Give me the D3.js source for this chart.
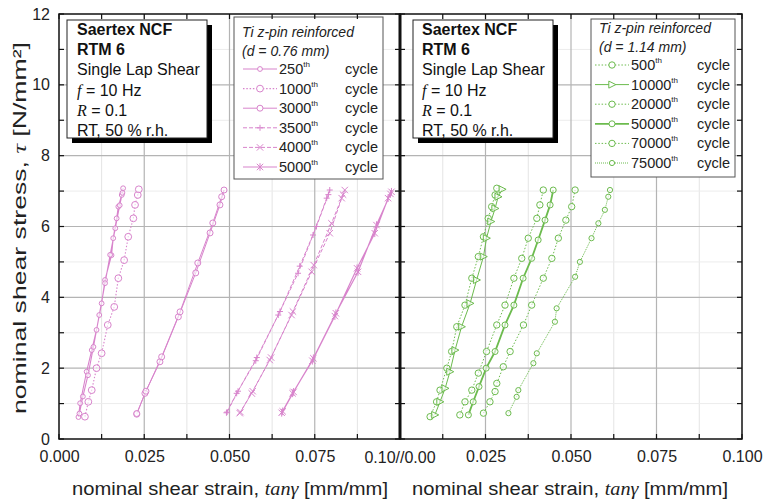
<!DOCTYPE html>
<html>
<head>
<meta charset="utf-8">
<script src="https://cdn.jsdelivr.net/npm/d3@7/dist/d3.min.js"></script>
<style>
  html, body { margin: 0; padding: 0; background: #fff; }
  svg { display: block; font-family: "Liberation Sans", Arial, sans-serif; }
</style>
</head>
<body>
<svg id="chart" width="765" height="502"></svg>
<script>
// ---- data: [nominal shear strain tanγ, nominal shear stress τ] per recorded cycle ----
const cyc250 = [[0.0057,0.62],[0.0062,1.01],[0.0081,1.90],[0.0096,2.51],[0.0110,3.08],[0.0125,3.83],[0.0135,4.49],[0.0154,5.19],[0.0159,5.67],[0.0169,6.23],[0.0174,6.56],[0.0184,6.89],[0.0188,7.08],
  [0.0186,6.95],[0.0178,6.60],[0.0165,5.95],[0.0150,5.20],[0.0135,4.40],[0.0118,3.50],[0.0101,2.60],[0.0085,1.80],[0.0070,1.20],[0.0060,0.72]];
const cyc1000 = [[0.0076,0.63],[0.0086,1.05],[0.0096,1.38],[0.0110,2.00],[0.0125,2.42],[0.0143,3.22],[0.0162,3.73],[0.0174,4.54],[0.0191,5.05],[0.0203,5.71],[0.0218,6.23],[0.0223,6.61],[0.0231,6.89],[0.0234,7.05]];
const cyc3000 = [[0.0228,0.70],[0.0252,1.29],[0.0296,2.18],[0.0350,3.45],[0.0401,4.69],[0.0443,5.82],[0.0472,6.61],[0.0484,7.03],
  [0.0477,6.84],[0.0451,6.10],[0.0407,4.97],[0.0355,3.59],[0.0301,2.32],[0.0255,1.35],[0.0228,0.72]];
const cyc3500 = [[0.0491,0.74],[0.0521,1.29],[0.0577,2.21],[0.0643,3.50],[0.0701,4.68],[0.0745,5.76],[0.0785,6.80],[0.0794,7.03],
  [0.0790,6.90],[0.0755,6.00],[0.0706,4.88],[0.0648,3.60],[0.0580,2.30],[0.0525,1.35],[0.0493,0.76]];
const cyc4000 = [[0.0530,0.73],[0.0565,1.29],[0.0618,2.23],[0.0682,3.50],[0.0741,4.72],[0.0794,5.81],[0.0829,6.80],[0.0838,7.03],
  [0.0833,6.90],[0.0799,6.09],[0.0747,4.91],[0.0686,3.60],[0.0622,2.30],[0.0568,1.35],[0.0532,0.76]];
const cyc5000 = [[0.0653,0.74],[0.0685,1.29],[0.0743,2.21],[0.0809,3.47],[0.0874,4.82],[0.0926,5.81],[0.0965,6.80],[0.0975,6.98],
  [0.0972,6.92],[0.0931,6.04],[0.0877,4.72],[0.0812,3.55],[0.0746,2.28],[0.0688,1.33],[0.0656,0.78]];

const cyc500 = [[0.0088,0.63],[0.0107,1.05],[0.0117,1.38],[0.0137,2.00],[0.0151,2.47],[0.0166,3.17],[0.0190,3.78],[0.0210,4.54],[0.0229,5.15],[0.0244,5.71],[0.0258,6.23],[0.0268,6.56],[0.0278,6.89],[0.0283,7.08]];
const cyc10000 = [[0.0102,0.68],[0.0117,1.05],[0.0132,1.43],[0.0146,1.90],[0.0161,2.51],[0.0180,3.17],[0.0205,3.83],[0.0224,4.49],[0.0244,5.15],[0.0253,5.67],[0.0266,6.14],[0.0278,6.51],[0.0287,6.84],[0.0299,7.05]];
const cyc20000 = [[0.0175,0.68],[0.0190,1.05],[0.0210,1.38],[0.0229,1.86],[0.0253,2.47],[0.0283,3.22],[0.0307,3.78],[0.0333,4.54],[0.0356,5.10],[0.0375,5.67],[0.0400,6.23],[0.0409,6.61],[0.0419,7.03]];
const cyc50000 = [[0.0200,0.68],[0.0214,1.05],[0.0231,1.48],[0.0252,2.00],[0.0278,2.47],[0.0307,3.22],[0.0333,3.78],[0.0360,4.54],[0.0385,5.10],[0.0404,5.62],[0.0424,6.18],[0.0439,6.61],[0.0448,7.03]];
const cyc70000 = [[0.0244,0.73],[0.0263,1.05],[0.0278,1.34],[0.0283,1.57],[0.0302,2.04],[0.0322,2.47],[0.0361,3.22],[0.0385,3.78],[0.0419,4.54],[0.0444,5.10],[0.0463,5.67],[0.0485,6.18],[0.0502,6.56],[0.0512,7.03]];
const cyc75000 = [[0.0317,0.73],[0.0341,1.19],[0.0346,1.38],[0.0390,2.14],[0.0400,2.42],[0.0453,3.31],[0.0458,3.69],[0.0512,4.58],[0.0526,5.00],[0.0560,5.67],[0.0580,6.09],[0.0599,6.47],[0.0609,6.84],[0.0614,7.03]];

const cyclesLeft  = ["250", "1000", "3000", "3500", "4000", "5000"];
const cyclesRight = ["500", "10000", "20000", "50000", "70000", "75000"];
const seriesLeft  = [cyc250, cyc1000, cyc3000, cyc3500, cyc4000, cyc5000];
const seriesRight = [cyc500, cyc10000, cyc20000, cyc50000, cyc70000, cyc75000];

const strainTicks = [0, 0.025, 0.05, 0.075, 0.1];
const strainMinor = [0.0125, 0.0375, 0.0625, 0.0875];
const stressTicks = [0, 2, 4, 6, 8, 10, 12];
const stressMinor = [1, 3, 5, 7, 9, 11];

const infoLines = ["Saertex NCF", "RTM 6", "Single Lap Shear", "f = 10 Hz", "R = 0.1", "RT, 50 % r.h."];

// ---- styles per series ----
const PINK = "#d884cc", GREEN = "#6cbb4e";
const styleLeft = [
  { dash: null,      marker: "circle", r: 2.4, w: 1.1 },
  { dash: "1.5,1.8", marker: "circle", r: 3.4, w: 1.1 },
  { dash: null,      marker: "circle", r: 3.0, w: 1.0 },
  { dash: "4,2",     marker: "plus",   r: 3.0, w: 1.0 },
  { dash: "4,2",     marker: "cross",  r: 3.2, w: 1.0 },
  { dash: null,      marker: "star",   r: 3.2, w: 1.2 }
];
const styleRight = [
  { dash: "1.5,1.8", marker: "circle",   r: 3.2, w: 1.0 },
  { dash: null,      marker: "triangle", r: 3.2, w: 1.0 },
  { dash: "1.5,1.8", marker: "circle",   r: 3.2, w: 1.0 },
  { dash: null,      marker: "circle",   r: 3.0, w: 1.8 },
  { dash: "1.5,1.8", marker: "circle",   r: 3.2, w: 1.0 },
  { dash: "1,1",     marker: "circle",   r: 2.6, w: 1.0 }
];

const svg = d3.select("#chart");
const plotTop = 14, plotBottom = 439;
const xL = d3.scaleLinear().domain([0, 0.1]).range([59, 400]);
const xR = d3.scaleLinear().domain([0, 0.1]).range([400, 742]);
const y  = d3.scaleLinear().domain([0, 12]).range([plotBottom, plotTop]);

function markerPath(type, r) {
  switch (type) {
    case "plus":  return `M${-r},0H${r}M0,${-r}V${r}`;
    case "cross": return `M${-r},${-r}L${r},${r}M${-r},${r}L${r},${-r}`;
    case "star":  return `M${-r},${-r}L${r},${r}M${-r},${r}L${r},${-r}M0,${-r*1.2}V${r*1.2}`;
    case "triangle": return `M${-r},${-r*1.1}L${r*1.2},0L${-r},${r*1.1}Z`;
    default: return d3.symbol(d3.symbolCircle, Math.PI * r * r)();
  }
}

function drawPanel(x, series, styles, color, cycles, lb, ib, dLabel) {
  const g = svg.append("g");
  const x0 = x.range()[0], x1 = x.range()[1];

  // grid
  g.selectAll(".gmx").data(strainMinor).join("line")
    .attr("x1", d => x(d)).attr("x2", d => x(d)).attr("y1", plotTop).attr("y2", plotBottom)
    .attr("stroke", "#e4e4e4").attr("stroke-width", 1);
  g.selectAll(".gmy").data(stressMinor).join("line")
    .attr("x1", x0).attr("x2", x1).attr("y1", d => y(d)).attr("y2", d => y(d))
    .attr("stroke", "#ececec").attr("stroke-width", 1);
  g.selectAll(".gx").data(strainTicks.slice(1, -1)).join("line")
    .attr("x1", d => x(d)).attr("x2", d => x(d)).attr("y1", plotTop).attr("y2", plotBottom)
    .attr("stroke", "#b4b4b4").attr("stroke-width", 1.2);
  g.selectAll(".gy").data(stressTicks.slice(1, -1)).join("line")
    .attr("x1", x0).attr("x2", x1).attr("y1", d => y(d)).attr("y2", d => y(d))
    .attr("stroke", "#b4b4b4").attr("stroke-width", 1.2);

  // curves
  series.forEach((pts, i) => {
    const st = styles[i];
    g.append("path").datum(pts)
      .attr("d", d3.line().x(d => x(d[0])).y(d => y(d[1])))
      .attr("fill", "none").attr("stroke", color).attr("stroke-width", st.w)
      .attr("stroke-dasharray", st.dash);
    g.selectAll(null).data(pts).join("path")
      .attr("transform", d => `translate(${x(d[0])},${y(d[1])})`)
      .attr("d", markerPath(st.marker, st.r))
      .attr("fill", st.marker === "circle" || st.marker === "triangle" ? "#fff" : "none")
      .attr("fill-opacity", 0.6)
      .attr("stroke", color).attr("stroke-width", 1);
  });

  // info box with drop shadow
  g.append("rect").attr("x", ib.x + 5).attr("y", ib.y + 5).attr("width", ib.w).attr("height", ib.h).attr("fill", "#000");
  g.append("rect").attr("x", ib.x).attr("y", ib.y).attr("width", ib.w).attr("height", ib.h)
    .attr("fill", "#fff").attr("stroke", "#222").attr("stroke-width", 1);
  infoLines.forEach((t, i) => {
    const tx = g.append("text").attr("x", ib.x + ib.pad).attr("y", ib.y + 15 + i * 20.2)
      .attr("font-size", 16).attr("fill", "#111");
    if (i < 2) tx.attr("font-weight", "bold").text(t);
    else if (i === 3) {
      tx.append("tspan").attr("font-family", "Liberation Serif, serif").attr("font-style", "italic").text("f");
      tx.append("tspan").text(" = 10 Hz");
    } else if (i === 4) {
      tx.append("tspan").attr("font-family", "Liberation Serif, serif").attr("font-style", "italic").text("R");
      tx.append("tspan").text(" = 0.1");
    } else tx.text(t);
  });

  // legend box
  g.append("rect").attr("x", lb.x).attr("y", lb.y).attr("width", lb.w).attr("height", lb.h)
    .attr("fill", "#fff").attr("stroke", "#555").attr("stroke-width", 1);
  g.append("text").attr("x", lb.x + 8).attr("y", lb.y + lb.titleY).attr("font-size", 14)
    .attr("font-style", "italic").attr("fill", "#222").text("Ti z-pin reinforced");
  g.append("text").attr("x", lb.x + 8).attr("y", lb.y + lb.titleY + 18.5).attr("font-size", 14)
    .attr("font-style", "italic").attr("fill", "#222").text(dLabel);
  cycles.forEach((c, i) => {
    const st = styles[i];
    const cy = lb.y + lb.entryY + i * 19.6;
    const sx0 = lb.x + lb.lineX, sx1 = sx0 + 34;
    g.append("line").attr("x1", sx0).attr("x2", sx1).attr("y1", cy).attr("y2", cy)
      .attr("stroke", color).attr("stroke-width", st.w).attr("stroke-dasharray", st.dash);
    g.append("path").attr("transform", `translate(${(sx0 + sx1) / 2},${cy})`)
      .attr("d", markerPath(st.marker, st.r))
      .attr("fill", st.marker === "circle" || st.marker === "triangle" ? "#fff" : "none")
      .attr("stroke", color).attr("stroke-width", 1);
    const t = g.append("text").attr("x", sx1 + 2).attr("y", cy + 5).attr("font-size", 14.5).attr("fill", "#222");
    t.append("tspan").text(c);
    t.append("tspan").attr("font-size", 8).attr("dy", -7).text("th");
    g.append("text").attr("x", lb.x + lb.w - 5).attr("y", cy + 5).attr("text-anchor", "end")
      .attr("font-size", 14.5).attr("fill", "#222").text("cycle");
  });

  // frame ticks (inward)
  const tk = g.append("g").attr("stroke", "#111").attr("stroke-width", 1.2);
  strainTicks.concat(strainMinor).forEach(v => {
    tk.append("line").attr("x1", x(v)).attr("x2", x(v)).attr("y1", plotBottom).attr("y2", plotBottom - 5);
    tk.append("line").attr("x1", x(v)).attr("x2", x(v)).attr("y1", plotTop).attr("y2", plotTop + 5);
  });
  stressTicks.concat(stressMinor).forEach(v => {
    tk.append("line").attr("x1", x0).attr("x2", x0 + 5).attr("y1", y(v)).attr("y2", y(v));
    tk.append("line").attr("x1", x1).attr("x2", x1 - 5).attr("y1", y(v)).attr("y2", y(v));
  });

  g.append("rect").attr("x", x0).attr("y", plotTop).attr("width", x1 - x0).attr("height", plotBottom - plotTop)
    .attr("fill", "none").attr("stroke", "#111").attr("stroke-width", 1.5);
  return g;
}

drawPanel(xL, seriesLeft, styleLeft, PINK, cyclesLeft,
  { x: 234, y: 17, w: 149, h: 162, titleY: 20, entryY: 52, lineX: 9 },
  { x: 67, y: 20, w: 140, h: 118, pad: 10 }, "(d = 0.76 mm)");
drawPanel(xR, seriesRight, styleRight, GREEN, cyclesRight,
  { x: 591, y: 19, w: 144, h: 158, titleY: 14, entryY: 46, lineX: 4 },
  { x: 413, y: 20, w: 140, h: 118, pad: 9 }, "(d = 1.14 mm)");

// panel divider
svg.append("line").attr("x1", 400).attr("x2", 400).attr("y1", plotTop).attr("y2", plotBottom)
  .attr("stroke", "#111").attr("stroke-width", 3);

// x tick labels via axes (labels only; ticks drawn on frame)
const fmt3 = d3.format(".3f");
const tickFont = a => a.selectAll("text").attr("font-size", 16).attr("fill", "#222")
  .attr("font-family", "Liberation Sans, Arial, sans-serif");
svg.append("g").attr("transform", `translate(0,${plotBottom})`)
  .call(d3.axisBottom(xL).tickValues(strainTicks.slice(0, -1)).tickSize(0).tickPadding(12).tickFormat(fmt3))
  .call(a => a.select(".domain").remove()).call(tickFont);
svg.append("g").attr("transform", `translate(0,${plotBottom})`)
  .call(d3.axisBottom(xR).tickValues(strainTicks.slice(1)).tickSize(0).tickPadding(12).tickFormat(fmt3))
  .call(a => a.select(".domain").remove()).call(tickFont);
svg.append("text").attr("x", 400).attr("y", plotBottom + 24).attr("text-anchor", "middle")
  .attr("font-size", 16).attr("fill", "#222").text("0.10//0.00");

// y tick labels
svg.append("g").attr("transform", "translate(59,0)")
  .call(d3.axisLeft(y).tickValues(stressTicks).tickSize(0).tickPadding(9))
  .call(a => a.select(".domain").remove()).call(tickFont);

// axis titles
function strainTitle(cx) {
  const t = svg.append("text").attr("x", cx).attr("y", 495).attr("text-anchor", "middle")
    .attr("font-size", 18).attr("fill", "#222")
    .attr("textLength", 316).attr("lengthAdjust", "spacingAndGlyphs");
  t.append("tspan").text("nominal shear strain, ");
  t.append("tspan").attr("font-family", "Liberation Serif, serif").attr("font-style", "italic").text("tanγ");
  t.append("tspan").text(" [mm/mm]");
}
strainTitle(230);
strainTitle(570);

const yt = svg.append("text").attr("transform", "translate(26,228) rotate(-90)")
  .attr("text-anchor", "middle").attr("font-size", 19).attr("fill", "#222")
  .attr("textLength", 372).attr("lengthAdjust", "spacingAndGlyphs");
yt.append("tspan").text("nominal shear stress, ");
yt.append("tspan").attr("font-family", "Liberation Serif, serif").attr("font-style", "italic").text("τ");
yt.append("tspan").text(" [N/mm²]");
</script>
</body>
</html>
